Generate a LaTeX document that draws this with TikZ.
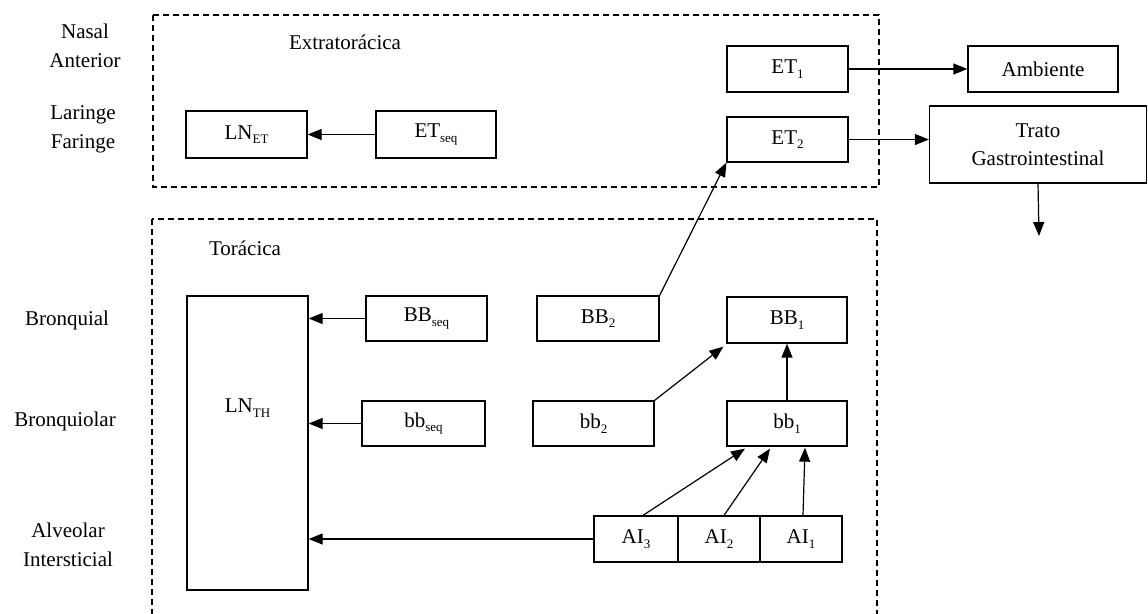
\documentclass[tikz,border=0pt]{standalone}
\usepackage{fontspec}
\setmainfont{Liberation Serif}
\usetikzlibrary{arrows.meta,calc}
% lowered small text for compartment indices
\newcommand\subtx[1]{\raisebox{-0.22em}{\fontsize{13}{13}\selectfont #1}}
\begin{document}
\begin{tikzpicture}[x=1pt,y=-1pt,
  box/.style={draw,line width=1.3pt,inner sep=0pt,font=\fontsize{21}{28}\selectfont},
  lbl/.style={inner sep=0pt,align=center,font=\fontsize{21}{29}\selectfont},
  region/.style={draw,line width=1.2pt,dash pattern=on 6pt off 4pt},
  flow/.style={line width=1.2pt,-{Triangle[length=14pt,width=11pt]}}]
\clip (0,0) rectangle (1148,613);
\fill[white] (0,0) rectangle (1148,613);

% regions
\draw[region] (153,15) rectangle (879,187);
\draw[region] (152,219) rectangle (877,640);
\node[lbl] (extra) at (345,42) {Extratorácica};
\node[lbl] (torax) at (245,248) {Torácica};

% side labels
\node[lbl] (nasal) at (85,46) {Nasal\\Anterior};
\node[lbl] (laring) at (83,129) {Laringe\\Faringe};
\node[lbl] (bronq) at (67,320) {Bronquial};
\node[lbl] (bronql) at (65,421) {Bronquiolar};
\node[lbl] (alv) at (68,545) {Alveolar\\Intersticial};

% extrathoracic compartments
\node[box,minimum width=121pt,minimum height=47pt] (LNET) at (246.5,134.5) {LN\subtx{ET}};
\node[box,minimum width=120pt,minimum height=47pt] (ETseq) at (436,134.5) {ET\subtx{seq}};
\node[box,minimum width=121pt,minimum height=46pt] (ET1) at (787.5,69) {ET\subtx{1}};
\node[box,minimum width=121pt,minimum height=45pt] (ET2) at (787.5,139.5) {ET\subtx{2}};
\node[box,minimum width=150pt,minimum height=46pt] (amb) at (1043,69) {Ambiente};
\node[box,minimum width=217pt,minimum height=77pt,align=center,
      font=\fontsize{21}{28}\selectfont] (GI) at (1038,144.5) {Trato\\Gastrointestinal};
\coordinate (GIout) at (1039,236);

% thoracic compartments
\node[box,minimum width=121pt,minimum height=294pt] (LNTH) at (247.5,443) {};
\node[lbl] (LNTHtxt) at (247.5,408) {LN\subtx{TH}};
\node[box,minimum width=121pt,minimum height=45pt] (BBseq) at (426.5,318.5) {BB\subtx{seq}};
\node[box,minimum width=123pt,minimum height=45pt] (bbseq) at (423.5,423.5) {bb\subtx{seq}};
\node[box,minimum width=122pt,minimum height=45pt] (BB2) at (598,318.5) {BB\subtx{2}};
\node[box,minimum width=120pt,minimum height=46pt] (BB1) at (787,320) {BB\subtx{1}};
\node[box,minimum width=121pt,minimum height=45pt] (bb2) at (593.5,423.5) {bb\subtx{2}};
\node[box,minimum width=120pt,minimum height=45pt] (bb1) at (787,423.5) {bb\subtx{1}};
\node[box,minimum width=84pt,minimum height=46pt] (AI3) at (636,539) {AI\subtx{3}};
\node[box,minimum width=82pt,minimum height=46pt] (AI2) at (719,539) {AI\subtx{2}};
\node[box,minimum width=82pt,minimum height=46pt] (AI1) at (801,539) {AI\subtx{1}};

% transfers
\draw[flow] (ETseq.west) -- (LNET.east);
\draw[flow] (ET1.east) -- (amb.west);
\draw[flow] (ET2.east) -- (GI.west |- ET2.east);
\draw[flow] (GI.south) -- (GIout);
\draw[flow] (BB2.north east) -- (ET2.south west);
\draw[flow] (BBseq.west) -- (LNTH.east |- BBseq.west);
\draw[flow] (bbseq.west) -- (LNTH.east |- bbseq.west);
\draw[flow] (AI3.west) -- (LNTH.east |- AI3.west);
\draw[flow] (bb2.north east) -- ([xshift=-3pt,yshift=-3pt]BB1.south west);
\draw[flow] (bb1.north) -- (BB1.south);
\draw[flow] ([xshift=7pt]AI3.north) -- ([xshift=-42pt,yshift=-2pt]bb1.south);
\draw[flow] ([xshift=5pt]AI2.north) -- ([xshift=-17pt,yshift=-2pt]bb1.south);
\draw[flow] ([xshift=2pt]AI1.north) -- ([xshift=18pt,yshift=-1pt]bb1.south);
\end{tikzpicture}
\end{document}
